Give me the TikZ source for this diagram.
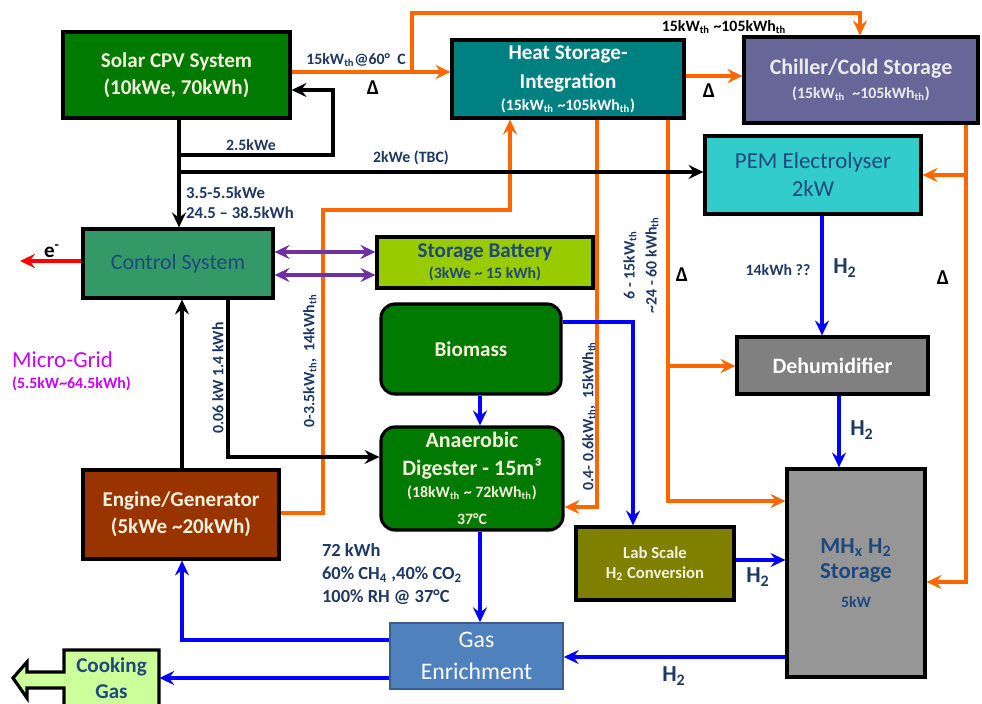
\documentclass[tikz,border=0pt]{standalone}
\usepackage{fontspec}
\setmainfont{Carlito}
\usepackage{xcolor}
\usepackage{tikz}
\usetikzlibrary{arrows.meta,positioning,calc}
\definecolor{hotc}{RGB}{255,102,0}
\definecolor{gasc}{RGB}{0,0,255}
\definecolor{purc}{RGB}{112,48,160}
\definecolor{navy}{RGB}{31,56,100}
\definecolor{pemtxt}{RGB}{31,73,125}
\definecolor{solarg}{RGB}{0,122,0}
\definecolor{heatc}{RGB}{0,128,128}
\definecolor{chillc}{RGB}{102,102,153}
\definecolor{pemc}{RGB}{51,204,204}
\definecolor{ctrlc}{RGB}{51,153,102}
\definecolor{battc}{RGB}{153,204,0}
\definecolor{engc}{RGB}{153,51,0}
\definecolor{dehc}{RGB}{128,128,128}
\definecolor{mhc}{RGB}{150,150,150}
\definecolor{labc}{RGB}{128,128,0}
\definecolor{enrc}{RGB}{79,129,189}
\definecolor{enrd}{RGB}{56,93,138}
\definecolor{cookc}{RGB}{204,255,153}
\definecolor{magc}{RGB}{204,0,255}
\definecolor{cream}{RGB}{242,242,220}
\newcommand{\subth}{\textsubscript{th}}
\newcommand{\tld}{\textasciitilde}
\newcommand{\fs}[2]{\fontsize{#1}{#2}\selectfont}

\begin{document}
\begin{tikzpicture}[x=0.2mm,y=-0.2mm,>={Stealth[length=8.5pt,width=8pt,inset=3pt]},
  box/.style={draw=black,line width=1.8pt,align=center,inner sep=1pt},
  rbox/.style={box,rounded corners=2.8mm},
  sz/.style 2 args={minimum width=#1*0.2mm,minimum height=#2*0.2mm},
  hot/.style={draw=hotc,line width=2.3pt},
  gas/.style={draw=gasc,line width=2.3pt},
  elec/.style={draw=black,line width=2.3pt},
  lbl/.style={text=navy,font=\fs{9}{11}\bfseries,inner sep=1pt},
  delta/.style={font=\fs{12}{14}\bfseries}]
\useasboundingbox (0,0) rectangle (982,704);

\node[box,sz={227}{86},fill=solarg,text=cream,font=\fs{12}{15.5}\bfseries] (solar) at (176.5,75)
  {Solar CPV System\\(10kWe, 70kWh)};
\node[box,sz={232}{78},fill=heatc,text=white,font=\fs{12}{16.5}\bfseries] (heat) at (568,79)
  {Heat Storage-\\Integration\\[-4pt]\fs{9}{10}(15kW\subth\ \tld105kWh\subth)};
\node[box,sz={234}{86},fill=chillc,text=white!92!black,font=\fs{12.5}{16}\bfseries] (chill) at (861,80)
  {Chiller/Cold Storage\\[-2pt]\fs{9}{10}(15kW\subth\ \ \tld105kWh\subth)};
\node[box,sz={216}{78},fill=pemc,text=pemtxt,font=\fs{13}{16}] (pem) at (813,175)
  {PEM Electrolyser\\2kW};
\node[box,sz={190}{69},fill=ctrlc,text=pemtxt,font=\fs{12.5}{15}] (ctrl) at (178,263.5) {Control System};
\node[box,sz={216}{51},fill=battc,text=pemtxt,font=\fs{12}{14}\bfseries] (batt) at (485,262.5)
  {Storage Battery\\[-2pt]\fs{9}{10}(3kWe \tld\ 15 kWh)};
\node[rbox,sz={180}{90},fill=solarg,text=cream,font=\fs{12}{15}\bfseries] (bio) at (471,349) {Biomass};
\node[rbox,sz={182}{103},fill=solarg,text=cream,font=\fs{12.5}{15.5}\bfseries] (ad) at (472,478.5)
  {Anaerobic\\Digester - 15m³\\[-3pt]\fs{9}{11}(18kW\subth\ \tld\ 72kWh\subth)\\\fs{9}{11}37°C};
\node[box,sz={191}{57},fill=dehc,text=white,font=\fs{12.5}{15}\bfseries] (dehum) at (832.5,365.5) {Dehumidifier};
\node[box,sz={196}{89},fill=engc,text=cream,font=\fs{12}{15.5}\bfseries] (eng) at (181,514.5)
  {Engine/Generator\\(5kWe \tld20kWh)};
\node[box,sz={158}{73},fill=labc,text=cream,font=\fs{9.5}{11.5}\bfseries] (lab) at (655,563.5)
  {Lab Scale\\H\textsubscript{2} Conversion};
\node[box,sz={138}{208},fill=mhc,text=pemtxt,font=\fs{13}{14.5}\bfseries] (mh) at (856,573)
  {MH\textsubscript{x} H\textsubscript{2}\\Storage\\[2pt]\fs{9}{11}5kW};
\node[draw=enrd,line width=0.9pt,align=center,sz={173}{66},fill=enrc,text=white,font=\fs{13.5}{18}] (gasen) at (476.5,656)
  {Gas\\Enrichment};
\draw[line width=1.8pt,fill=cookc] (64,650) -- (159,650) -- (159,712) -- (64,712) -- (64,688) -- (27,688)
  -- (27,698) -- (13,678) -- (27,662) -- (27,672) -- (64,672) -- cycle;
\node[align=center,sz={95}{60},text=pemtxt,font=\fs{12}{15}\bfseries,inner sep=0pt] (cook) at (111.5,678) {Cooking\\Gas};

\coordinate (h0) at (412,72);
\coordinate (t2) at (860,13);
\coordinate (hc) at (700,76);
\coordinate (sp) at (179,155);
\coordinate (fb) at (333,90);
\coordinate (sq) at (179,172);
\coordinate (pa) at (300,252);
\coordinate (pb) at (300,275);
\coordinate (eout) at (20,261);
\coordinate (cd) at (228,457);
\coordinate (eg) at (182,400);
\coordinate (o1) at (323,513);
\coordinate (o2) at (510,210);
\coordinate (o3) at (597,507);
\coordinate (o4) at (668,501);
\coordinate (o5) at (668,366);
\coordinate (o6) at (966,582);
\coordinate (o7) at (966,175);
\coordinate (g1) at (822,300);
\coordinate (g2) at (839,430);
\coordinate (g3) at (480,410);
\coordinate (g4) at (633,322);
\coordinate (g5) at (760,560);
\coordinate (g6) at (670,657);
\coordinate (g7) at (182,640);
\coordinate (g8) at (300,678);

% heat paths
\draw[hot,->] (solar.east |- h0) -- (heat.west |- h0);
\draw[hot,->] (h0) |- (t2) -- (chill.north -| t2);
\draw[hot,->] (heat.east |- hc) -- (chill.west |- hc);
\draw[hot,->] (eng.east |- o1) -- (o1) |- (o2) -- (heat.south -| o2);
\draw[hot,->] (heat.south -| o3) -- (o3) -- (ad.east |- o3);
\draw[hot,->] (heat.south -| o4) -- (o4) -- (mh.west |- o4);
\draw[hot,->] (o5) -- (dehum.west |- o5);
\draw[hot,->] (chill.south -| o6) -- (o6) -- (mh.east |- o6);
\draw[hot,->] (o7) -- (pem.east |- o7);

% electric paths
\draw[elec,->] (solar.south -| sp) -- (ctrl.north -| sp);
\draw[elec,->] (sp) -| (fb) -- (solar.east |- fb);
\draw[elec,->] (sq) -- (pem.west |- sq);
\draw[elec,->] (ctrl.south -| cd) |- (ad.west |- cd);
\draw[elec,->] (eng.north -| eg) -- (ctrl.south -| eg);
\draw[draw=purc,line width=2.3pt,<->] (ctrl.east |- pa) -- (batt.west |- pa);
\draw[draw=purc,line width=2.3pt,<->] (ctrl.east |- pb) -- (batt.west |- pb);
\draw[draw=red,line width=2.3pt,->] (ctrl.west |- eout) -- (eout);

% gas paths
\draw[gas,->] (pem.south -| g1) -- (dehum.north -| g1);
\draw[gas,->] (dehum.south -| g2) -- (mh.north -| g2);
\draw[gas,->] (bio.south -| g3) -- (ad.north -| g3);
\draw[gas,->] (bio.east |- g4) -| (lab.north -| g4);
\draw[gas,->] (ad.south -| g3) -- (gasen.north -| g3);
\draw[gas,->] (lab.east |- g5) -- (mh.west |- g5);
\draw[gas,->] (mh.west |- g6) -- (gasen.east |- g6);
\draw[gas,->] (gasen.west |- g7) -| (eng.south -| g7);
\draw[gas,->] (gasen.west |- g8) -- (cook.east |- g8);

% labels
\node[lbl] (l1) at (356,60) {15kW\subth@60° \ C};
\node[lbl,text=black] (l2) at (724,27) {15kW\subth\ \tld105kWh\subth};
\node[lbl] (l3) at (251,145) {2.5kWe};
\node[lbl] (l4) at (411,158) {2kWe (TBC)};
\node[lbl,anchor=west,align=left,font=\fs{9.5}{11.5}\bfseries] (l5) at (184,203) {3.5-5.5kWe\\24.5 -- 38.5kWh};
\node[lbl,rotate=90] (l6) at (218,378) {0.06 kW 1.4 kWh};
\node[lbl,rotate=90] (l7) at (310,361) {0-3.5kW\subth, \ 14kWh\subth};
\node[lbl,rotate=90] (l8) at (589,416) {0.4- 0.6kW\subth, \ 15kWh\subth};
\node[lbl,rotate=90] (l9) at (630,265) {6 - 15kW\subth};
\node[lbl,rotate=90] (l10) at (652,265) {\tld24 - 60 kWh\subth};
\node[lbl] (l11) at (778,270) {14kWh ??};
\node[lbl,font=\fs{13}{15}\bfseries] (l12) at (845,268) {H\textsubscript{2}};
\node[lbl,font=\fs{13}{15}\bfseries] (l13) at (862,430) {H\textsubscript{2}};
\node[lbl,font=\fs{13}{15}\bfseries] (l14) at (758,577) {H\textsubscript{2}};
\node[lbl,font=\fs{13}{15}\bfseries] (l15) at (674,676) {H\textsubscript{2}};
\node[lbl,anchor=west,align=left,font=\fs{10.5}{13}\bfseries] (l16) at (320,574)
  {72 kWh\\60\% CH\textsubscript{4} ,40\% CO\textsubscript{2}\\100\% RH @ 37°C};
\node[delta] (d1) at (373,88) {Δ};
\node[delta] (d2) at (709,91) {Δ};
\node[delta] (d3) at (682,275) {Δ};
\node[delta] (d4) at (943,278) {Δ};
\node[font=\fs{12}{14}\bfseries] (el) at (52,251) {e\textsuperscript{-}};
\node[anchor=west,align=left,text=magc,font=\fs{13}{16}] (mg) at (6,360) {Micro-Grid};
\node[anchor=west,text=magc,font=\fs{9}{11}\bfseries] (mgs) at (6,384) {(5.5kW\tld64.5kWh)};
\end{tikzpicture}
\end{document}
